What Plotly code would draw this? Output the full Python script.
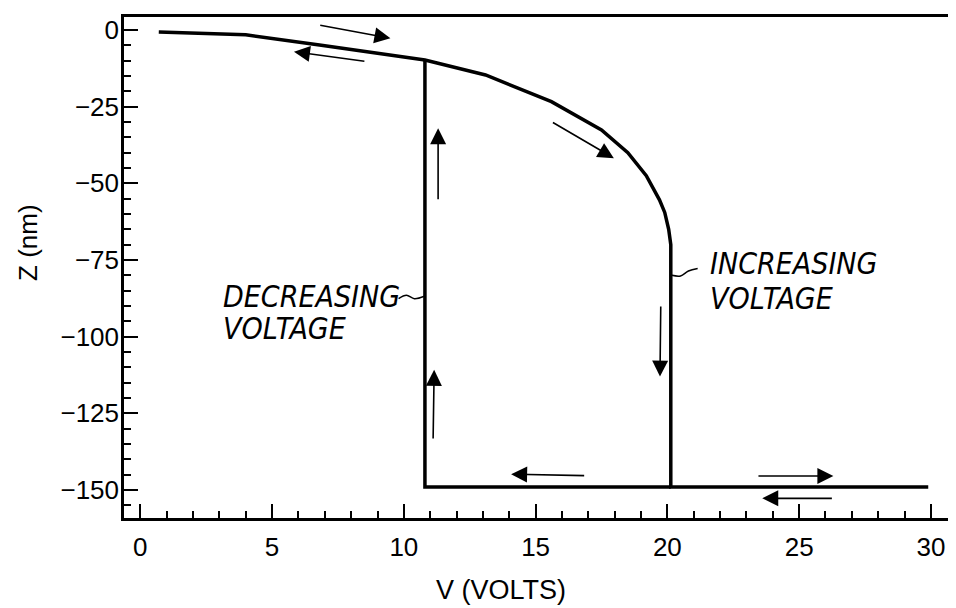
import plotly.graph_objects as go

# ---- data ----
inc_v = [0.7, 2.0, 4.0, 6.8, 9.0, 10.8, 13.1, 15.6, 17.5, 18.5, 19.2, 19.7, 19.9, 20.05, 20.13, 20.13, 29.9]
inc_z = [-0.7, -1.0, -1.6, -4.9, -7.6, -9.8, -14.7, -23.4, -32.6, -40.0, -47.5, -55.4, -59.5, -65.0, -70.0, -149.0, -149.0]

dec_v = [10.8, 10.8, 20.13]
dec_z = [-9.8, -149.0, -149.0]

x_tickvals = [0, 5, 10, 15, 20, 25, 30]
x_ticktext = ["0", "5", "10", "15", "20", "25", "30"]
y_tickvals = [0, -25, -50, -75, -100, -125, -150]
y_ticktext = ["0", "\u221225", "\u221250", "\u221275", "\u2212100", "\u2212125", "\u2212150"]

# direction arrows: (tail_v, tail_z, head_v, head_z)
arrow_tail_v = [6.77, 8.56, 15.6, 11.3, 11.11, 19.75, 16.9, 23.4, 26.3]
arrow_tail_z = [1.6, -10.3, -29.9, -55.7, -133.7, -89.7, -145.3, -145.4, -152.7]
arrow_head_v = [9.49, 5.83, 17.97, 11.3, 11.15, 19.72, 14.07, 26.3, 23.6]
arrow_head_z = [-2.7, -7.1, -41.8, -32.1, -110.8, -113.0, -144.8, -145.4, -152.7]

# label leaders
dec_lead_v = [9.8, 10.1, 10.4, 10.78]
dec_lead_z = [-87.6, -86.5, -87.6, -86.8]
inc_lead_v = [20.17, 20.5, 20.8, 21.15]
inc_lead_z = [-80.0, -80.2, -78.6, -77.8]

labels = ["DECREASING", "VOLTAGE", "INCREASING", "VOLTAGE"]
label_v = [3.05, 3.05, 21.55, 21.55]
label_z = [-87.0, -97.2, -76.0, -87.4]

FONT = "Liberation Sans Narrow, DejaVu Sans Condensed, Liberation Sans, sans-serif"
TICKFONT = "Liberation Sans, DejaVu Sans, sans-serif"

fig = go.Figure()
fig.add_trace(go.Scatter(x=inc_v, y=inc_z, mode="lines",
                         line=dict(color="black", width=3.5), hoverinfo="skip"))
fig.add_trace(go.Scatter(x=dec_v, y=dec_z, mode="lines",
                         line=dict(color="black", width=3.5), hoverinfo="skip"))
fig.add_trace(go.Scatter(x=dec_lead_v, y=dec_lead_z, mode="lines", line_shape="spline",
                         line=dict(color="black", width=1.5), hoverinfo="skip"))
fig.add_trace(go.Scatter(x=inc_lead_v, y=inc_lead_z, mode="lines", line_shape="spline",
                         line=dict(color="black", width=1.5), hoverinfo="skip"))

for tv, tz, hv, hz in zip(arrow_tail_v, arrow_tail_z, arrow_head_v, arrow_head_z):
    fig.add_annotation(x=hv, y=hz, ax=tv, ay=tz, xref="x", yref="y", axref="x", ayref="y",
                       text="", showarrow=True, arrowhead=2, arrowsize=2.0, arrowwidth=1.6,
                       arrowcolor="black", standoff=0, startstandoff=0)

for t, v, z in zip(labels, label_v, label_z):
    fig.add_annotation(x=v, y=z, xref="x", yref="y", text="<i>" + t + "</i>", showarrow=False,
                       xanchor="left", yanchor="middle",
                       font=dict(family=FONT, size=30, color="black"))

fig.add_annotation(x=-0.1165, y=0.549, xref="paper", yref="paper", text="Z (nm)", textangle=-90,
                   xanchor="center", yanchor="middle",
                   showarrow=False, font=dict(family=TICKFONT, size=26, color="black"))
fig.add_annotation(x=0.458, y=-0.1437, xref="paper", yref="paper", text="V (VOLTS)",
                   xanchor="center", yanchor="middle",
                   showarrow=False, font=dict(family=TICKFONT, size=27, color="black"))

axis_common = dict(showgrid=False, zeroline=False, showline=True, linecolor="black", linewidth=2.5,
                   mirror=True, ticks="inside", tickcolor="black", tickwidth=2, ticklen=14,
                   tickfont=dict(family=TICKFONT, size=26, color="black"))

fig.update_xaxes(range=[-0.62, 30.65], tickmode="array", tickvals=x_tickvals, ticktext=x_ticktext,
                 ticklabelstandoff=4,
                 minor=dict(dtick=1, ticks="inside", ticklen=7, tickwidth=2, tickcolor="black"),
                 **axis_common)
fig.update_yaxes(range=[-159.1, 4.2], tickmode="array", tickvals=y_tickvals, ticktext=y_ticktext,
                 ticklabelstandoff=-3,
                 minor=dict(dtick=5, ticks="inside", ticklen=7, tickwidth=2, tickcolor="black"),
                 **axis_common)

# the page body has an 8px default margin, so the figure is sized to fit the 956x608 window
fig.update_layout(width=948, height=600, margin=dict(l=116, r=5, t=9, b=90),
                  plot_bgcolor="white", paper_bgcolor="white", showlegend=False)

fig.write_html("out.html")
